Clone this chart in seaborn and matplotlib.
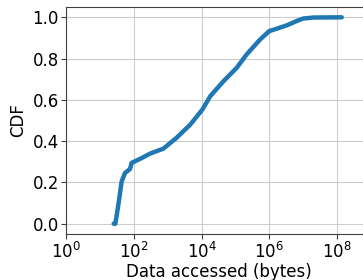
import matplotlib
matplotlib.use("Agg")
import matplotlib.pyplot as plt
import seaborn as sns
import pandas as pd

# CDF of data accessed
bytes_accessed = [25, 28, 35, 43, 54, 76, 85, 150, 300, 740, 1800, 4600,
                  10500, 18000, 44000, 110000, 214000, 540000, 1.0e6,
                  3.3e6, 6.5e6, 1.0e7, 2.0e7, 1.4e8]
cdf = [0.0, 0.0, 0.10, 0.205, 0.246, 0.265, 0.295, 0.314, 0.34, 0.364,
       0.416, 0.48, 0.553, 0.618, 0.69, 0.756, 0.82, 0.893, 0.933,
       0.961, 0.982, 0.994, 0.999, 1.0]
x_ticks = [1, 1e2, 1e4, 1e6, 1e8]
y_ticks = [0.0, 0.2, 0.4, 0.6, 0.8, 1.0]

sns.set_style("whitegrid", {"axes.edgecolor": "0.25", "xtick.bottom": True,
                            "ytick.left": True, "grid.color": "0.8",
                            "text.color": "black", "xtick.color": "black",
                            "ytick.color": "black", "axes.labelcolor": "black"})
plt.rcParams["font.family"] = ["DejaVu Sans"]

df = pd.DataFrame({"bytes": bytes_accessed, "cdf": cdf})

fig = plt.figure(figsize=(3.63, 2.8), dpi=100)
ax = fig.add_axes([0.183, 0.164, 0.838, 0.811])
sns.lineplot(data=df, x="bytes", y="cdf", ax=ax, color="#1f77b4",
             linewidth=3.2, solid_capstyle="round")
ax.set_xscale("log")
ax.set_xlim(1, 1e9)
ax.set_ylim(-0.05, 1.05)
ax.set_xticks(x_ticks)
ax.set_yticks(y_ticks)
ax.minorticks_off()
ax.tick_params(labelsize=12, length=3.5, pad=2, color="0.25")
ax.set_xlabel("Data accessed (bytes)", fontsize=12, labelpad=1)
ax.set_ylabel("CDF", fontsize=12, labelpad=4)
ax.spines["right"].set_visible(False)

fig.savefig("out.png", dpi=100)
